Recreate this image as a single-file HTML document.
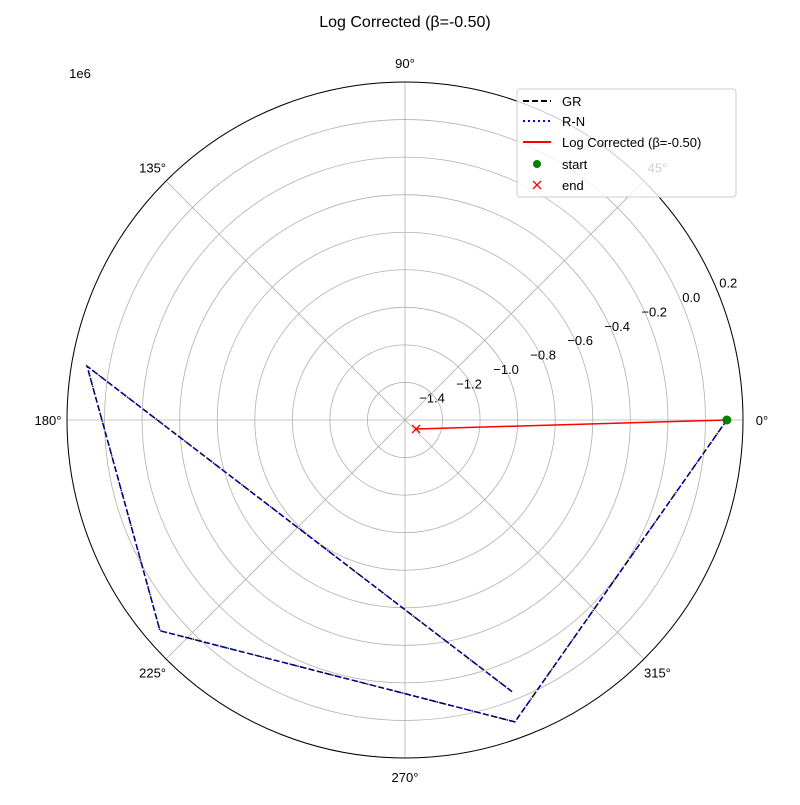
<!DOCTYPE html>
<html><head><meta charset="utf-8"><style>
body{margin:0;background:#fff;}
svg text{font-family:"Liberation Sans","DejaVu Sans",sans-serif;font-size:13px;fill:#000;}
</style></head><body>
<svg id="chart" width="800" height="800" xmlns="http://www.w3.org/2000/svg">
<rect width="800" height="800" fill="#fff"/>
<text x="405" y="27" text-anchor="middle" font-size="16" style="font-size:16px">Log Corrected (β=-0.50)</text>
<text x="80" y="78" text-anchor="middle">1e6</text>
<g id="grid"></g><g id="series"></g>
<g>
<rect x="517" y="89" width="219" height="108" rx="3" fill="#fff" fill-opacity="0.8" stroke="#ccc"/>
<line x1="523" y1="101" x2="551" y2="101" stroke="#000" stroke-width="2" stroke-dasharray="6,3"/>
<text x="562" y="106">GR</text>
<line x1="523" y1="121" x2="551" y2="121" stroke="#00f" stroke-width="2" stroke-dasharray="2,3"/>
<text x="562" y="126">R-N</text>
<line x1="523" y1="142" x2="551" y2="142" stroke="#f00" stroke-width="2"/>
<text x="562" y="147">Log Corrected (β=-0.50)</text>
<circle cx="537" cy="164" r="4" fill="green"/>
<text x="562" y="169">start</text>
<path d="M533,181 L541,189 M541,181 L533,189" stroke="#f00" stroke-width="1.3"/>
<text x="562" y="190">end</text>
</g>
</svg>
<script>
const radialTicks=[-1.4,-1.2,-1.0,-0.8,-0.6,-0.4,-0.2,0.0,0.2];
const angleTicks=[0,45,90,135,180,225,270,315];
const grAngles=[0,290,220.7,170.4,291.5];
const grValues=[0.114,0.111,0.121,0.117,-0.045];
const logAngles=[0,321];
const logValues=[0.114,-1.524];
const rMin=-1.6,rMax=0.2,cx=405,cy=420,R=338;
const NS="http://www.w3.org/2000/svg";
function rs(v){return (v-rMin)/(rMax-rMin)*R;}
function pt(a,v){const t=a*Math.PI/180,r=rs(v);return [cx+r*Math.cos(t),cy-r*Math.sin(t)];}
function mk(tag,at,parent){const e=document.createElementNS(NS,tag);for(const k in at)e.setAttribute(k,at[k]);parent.appendChild(e);return e;}
const g=document.getElementById('grid'),s=document.getElementById('series');
radialTicks.forEach(v=>{
 const c=mk('circle',{cx:cx,cy:cy,r:rs(v),fill:'none',stroke:'#b0b0b0','stroke-width':0.8},g);
 
 
 const r=rs(v),t=22.5*Math.PI/180;
 const x=cx+r*Math.cos(t)-10+21*r/R,y=cy-r*Math.sin(t)-8+5;
 const tx=mk('text',{x:x,y:y,'text-anchor':'middle'},g);
 tx.textContent=v.toFixed(1).replace('-','−');
 
 
});
angleTicks.forEach(a=>{
 const t=a*Math.PI/180;
 const l=mk('line',{x1:cx,y1:cy,x2:cx+R*Math.cos(t),y2:cy-R*Math.sin(t),stroke:'#b0b0b0','stroke-width':0.8},g);
 
 
 const tx=mk('text',{x:cx+357*Math.cos(t),y:cy-357*Math.sin(t)+5,'text-anchor':'middle'},g);
 tx.textContent=a+'°';
 
 
});
const outer=mk('circle',{cx:cx,cy:cy,r:R,fill:'none',stroke:'#000','stroke-width':1},g);


function poly(A,V){return A.map((a,i)=>pt(a,V[i]).join(',')).join(' ');}
const gr=mk('polyline',{points:poly(grAngles,grValues),fill:'none',stroke:'#000','stroke-width':1.5,'stroke-dasharray':'6,3'},s);


const rn=mk('polyline',{points:poly(grAngles,grValues),fill:'none',stroke:'#00f','stroke-width':1.5,'stroke-dasharray':'1.5,2.5'},s);


const lc=mk('polyline',{points:poly(logAngles,logValues),fill:'none',stroke:'#f00','stroke-width':1.5},s);


const st=pt(logAngles[0],logValues[0]);
const sc=mk('circle',{cx:st[0],cy:st[1],r:4.5,fill:'green'},s);


const en=pt(logAngles[1],logValues[1]);
const ex=mk('path',{d:`M${en[0]-4},${en[1]-4}L${en[0]+4},${en[1]+4}M${en[0]+4},${en[1]-4}L${en[0]-4},${en[1]+4}`,stroke:'#f00','stroke-width':1.3},s);


</script>
</body></html>
